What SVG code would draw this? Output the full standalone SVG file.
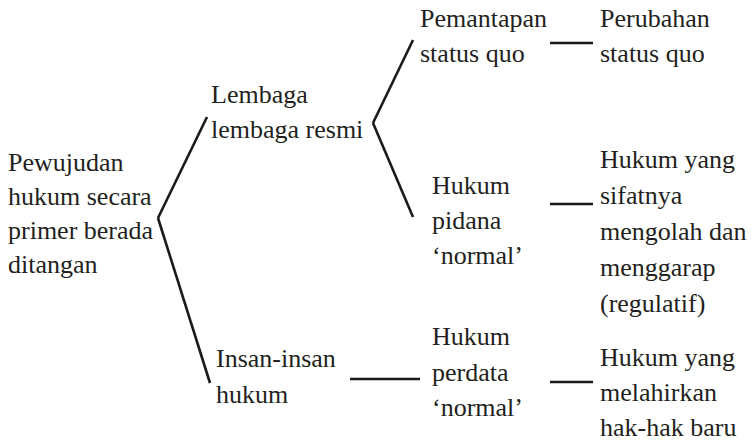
<svg xmlns="http://www.w3.org/2000/svg" width="754" height="444" viewBox="0 0 754 444">
<style>
.t text{font-size:26px;fill:#231f20}
.c line{stroke:#1a1a1a;stroke-width:2.6;stroke-linecap:butt}
</style>
<rect width="754" height="444" fill="#fff"/>
<g class="c" id="connectors">
<line x1="158" y1="218" x2="207" y2="117"/>
<line x1="158" y1="218" x2="210" y2="383"/>
<line x1="373" y1="123" x2="413" y2="40"/>
<line x1="373" y1="123" x2="413" y2="217"/>
<line x1="550" y1="43" x2="593" y2="43"/>
<line x1="550" y1="204" x2="593" y2="204"/>
<line x1="350" y1="379" x2="420" y2="379"/>
<line x1="550" y1="382" x2="593" y2="382"/>
</g>
<g class="t" font-family="'Liberation Serif', 'DejaVu Serif', serif">
<g id="root"><text x="8" y="171">Pewujudan</text><text x="8" y="205">hukum secara</text><text x="8" y="239">primer berada</text><text x="8" y="273">ditangan</text></g>
<g id="lembaga"><text x="211" y="103">Lembaga</text><text x="211" y="138">lembaga resmi</text></g>
<g id="insan"><text x="216" y="367">Insan-insan</text><text x="216" y="403">hukum</text></g>
<g id="pemantapan"><text x="420" y="27">Pemantapan</text><text x="420" y="62">status quo</text></g>
<g id="perubahan"><text x="600" y="27">Perubahan</text><text x="600" y="62">status quo</text></g>
<g id="pidana"><text x="432" y="194">Hukum</text><text x="432" y="229">pidana</text><text x="432" y="264">‘normal’</text></g>
<g id="regulatif"><text x="600" y="168">Hukum yang</text><text x="600" y="204">sifatnya</text><text x="600" y="240">mengolah dan</text><text x="600" y="276">menggarap</text><text x="600" y="312">(regulatif)</text></g>
<g id="perdata"><text x="432" y="345">Hukum</text><text x="432" y="381">perdata</text><text x="432" y="416">‘normal’</text></g>
<g id="hakbaru"><text x="600" y="366">Hukum yang</text><text x="600" y="401">melahirkan</text><text x="600" y="436">hak-hak baru</text></g>
</g>
</svg>
